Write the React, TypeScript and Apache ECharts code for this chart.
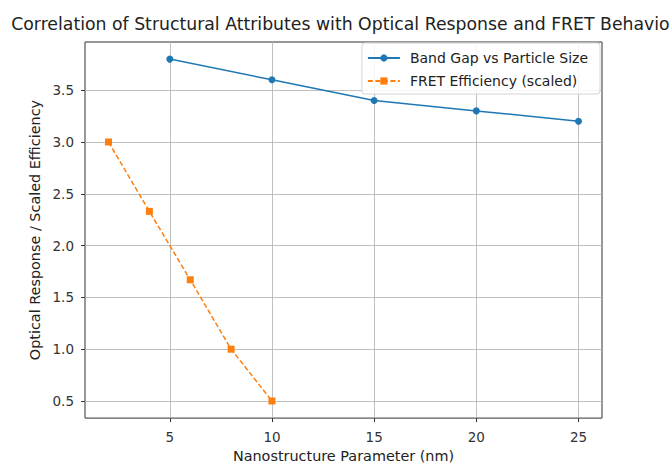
import React, { useEffect, useRef } from "react";
import * as echarts from "echarts";

const bandGapX = [5, 10, 15, 20, 25];
const bandGapY = [3.8, 3.6, 3.4, 3.3, 3.2];
const fretX = [2, 4, 6, 8, 10];
const fretY = [3.0, 2.33, 1.67, 1.0, 0.5];
const xTicks = [5, 10, 15, 20, 25];
const yTicks = [0.5, 1.0, 1.5, 2.0, 2.5, 3.0, 3.5];

const FONT = "DejaVu Sans";

export default function App() {
  const ref = useRef<HTMLDivElement>(null);
  useEffect(() => {
    if (!ref.current) return;
    const chart = echarts.init(ref.current, null, { renderer: "svg" });
    chart.setOption({
      animation: false,
      backgroundColor: "#ffffff",
      title: {
        text: "Correlation of Structural Attributes with Optical Response and FRET Behavior",
        left: 344,
        textAlign: "center",
        top: 15,
        padding: 0,
        textStyle: { fontFamily: FONT, fontSize: 17.3, fontWeight: "normal", color: "#222" },
      },
      legend: {
        orient: "vertical",
        right: 70,
        top: 43,
        padding: [8, 12, 6, 5],
        itemWidth: 32,
        itemHeight: 9,
        itemGap: 9,
        backgroundColor: "rgba(255,255,255,0.85)",
        borderColor: "#d5d5d5",
        borderWidth: 1,
        borderRadius: 3,
        textStyle: { fontFamily: FONT, fontSize: 14, color: "#222", padding: [0, 0, 0, 5] },
        data: ["Band Gap vs Particle Size", "FRET Efficiency (scaled)"],
      },
      grid: {
        left: 85,
        right: 68,
        top: 42,
        bottom: 45,
        show: true,
        borderColor: "#333",
        borderWidth: 1,
      },
      xAxis: {
        type: "value",
        min: 0.85,
        max: 26.15,
        name: "Nanostructure Parameter (nm)",
        nameLocation: "middle",
        nameGap: 28,
        nameTextStyle: { fontFamily: FONT, fontSize: 14.4, color: "#222" },
        axisLine: { show: false },
        axisTick: { show: true, inside: false, length: 4, customValues: xTicks, lineStyle: { color: "#333" } },
        axisLabel: { customValues: xTicks, margin: 12, fontFamily: FONT, fontSize: 13.5, color: "#333" },
        splitLine: { show: true, lineStyle: { color: "#b0b0b0", width: 0.8 } },
      },
      yAxis: {
        type: "value",
        min: 0.335,
        max: 3.965,
        name: "Optical Response / Scaled Efficiency",
        nameLocation: "middle",
        nameGap: 38,
        nameTextStyle: { fontFamily: FONT, fontSize: 14.4, color: "#222" },
        axisLine: { show: false },
        axisTick: { show: true, inside: false, length: 4, customValues: yTicks, lineStyle: { color: "#333" } },
        axisLabel: {
          customValues: yTicks,
          margin: 11,
          fontFamily: FONT,
          fontSize: 13.5,
          color: "#333",
          formatter: (v: number) => v.toFixed(1),
        },
        splitLine: { show: true, lineStyle: { color: "#b0b0b0", width: 0.8 } },
      },
      series: [
        {
          name: "Band Gap vs Particle Size",
          type: "line",
          data: bandGapX.map((x, i) => [x, bandGapY[i]]),
          symbol: "circle",
          symbolSize: 7,
          color: "#1f77b4",
          lineStyle: { width: 1.5, color: "#1f77b4" },
          itemStyle: { color: "#1f77b4" },
        },
        {
          name: "FRET Efficiency (scaled)",
          type: "line",
          data: fretX.map((x, i) => [x, fretY[i]]),
          symbol: "rect",
          symbolSize: 7,
          color: "#ff7f0e",
          lineStyle: { width: 1.5, color: "#ff7f0e", type: [5, 2.5] },
          itemStyle: { color: "#ff7f0e" },
        },
      ],
    });
    return () => chart.dispose();
  }, []);
  return <div ref={ref} style={{ width: 670, height: 468, position: "absolute", left: 0, top: 0 }} />;
}
